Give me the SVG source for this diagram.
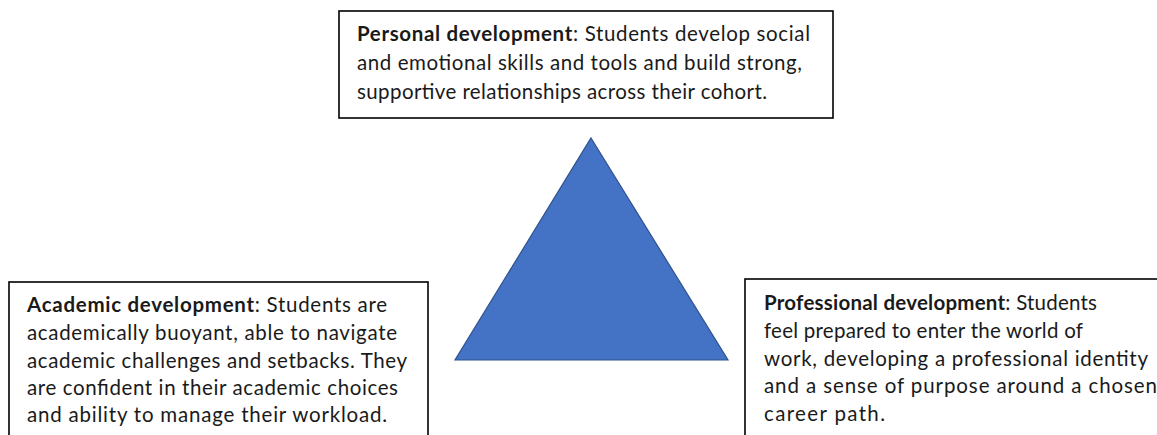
<svg xmlns="http://www.w3.org/2000/svg" width="1157" height="435" viewBox="0 0 1157 435">
<style>
.box{fill:#ffffff;stroke:#000000;stroke-width:1.6}
.t{font-family:Lato,"Liberation Sans",sans-serif;font-size:20.5px;fill:#1a1a1a}
.b{font-weight:bold}
.tri{fill:#4472C4;stroke:#2F528F;stroke-width:1.2}
</style>
<rect width="1157" height="435" fill="#ffffff"/>
<g id="personal">
<rect class="box" x="339" y="11" width="494" height="107"/>
<text class="t" x="357" y="41" textLength="453" lengthAdjust="spacing"><tspan class="b">Personal development</tspan>: Students develop social</text>
<text class="t" x="357" y="70" textLength="445" lengthAdjust="spacing">and emotional skills and tools and build strong,</text>
<text class="t" x="357" y="99" textLength="410" lengthAdjust="spacing">supportive relationships across their cohort.</text>
</g>
<g id="triangle">
<polygon class="tri" points="591,138 728,360 455,360"/>
</g>
<g id="academic">
<rect class="box" x="9" y="282" width="419" height="170"/>
<text class="t" x="27" y="312" textLength="360" lengthAdjust="spacing"><tspan class="b">Academic development</tspan>: Students are</text>
<text class="t" x="27" y="340" textLength="370" lengthAdjust="spacing">academically buoyant, able to navigate</text>
<text class="t" x="27" y="368" textLength="380" lengthAdjust="spacing">academic challenges and setbacks. They</text>
<text class="t" x="27" y="395" textLength="371" lengthAdjust="spacing">are confident in their academic choices</text>
<text class="t" x="27" y="422" textLength="360" lengthAdjust="spacing">and ability to manage their workload.</text>
</g>
<g id="professional">
<rect class="box" x="745" y="279" width="430" height="170"/>
<text class="t" x="764" y="310" textLength="333" lengthAdjust="spacing"><tspan class="b">Professional development</tspan>: Students</text>
<text class="t" x="764" y="338" textLength="319" lengthAdjust="spacing">feel prepared to enter the world of</text>
<text class="t" x="764" y="366" textLength="384" lengthAdjust="spacing">work, developing a professional identity</text>
<text class="t" x="764" y="393" textLength="393" lengthAdjust="spacing">and a sense of purpose around a chosen</text>
<text class="t" x="764" y="421" textLength="121" lengthAdjust="spacing">career path.</text>
</g>
<g id="connectors"></g>
</svg>
